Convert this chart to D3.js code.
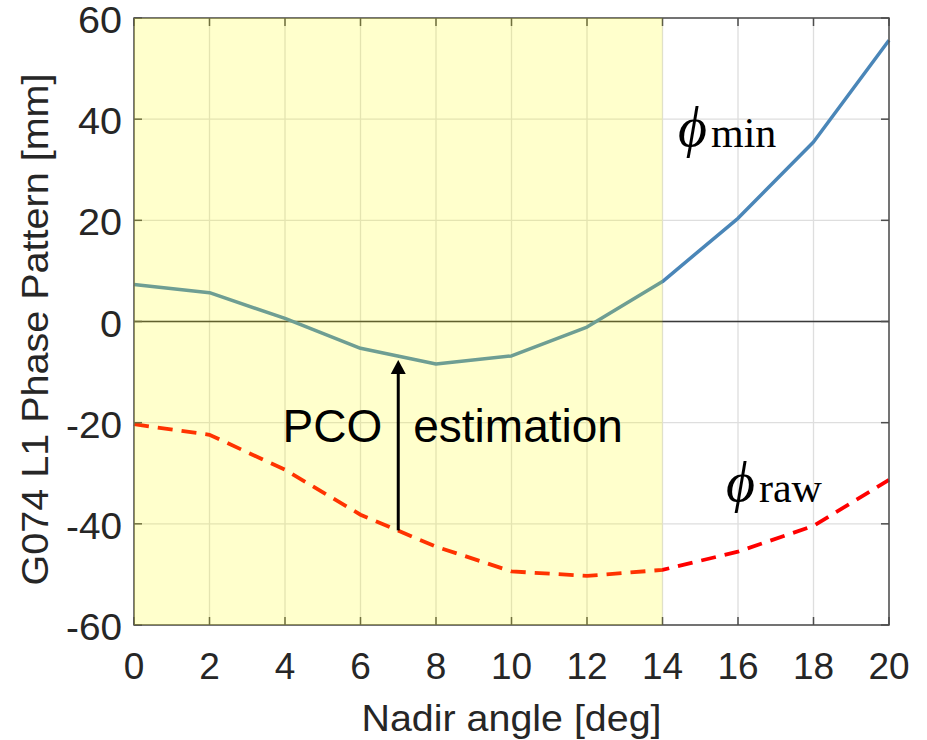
<!DOCTYPE html>
<html><head><meta charset="utf-8">
<script src="https://cdn.jsdelivr.net/npm/d3@7"></script>
<style>
html,body{margin:0;padding:0;background:#fff;}
svg{display:block;}
</style></head>
<body>
<svg id="chart" width="927" height="740"></svg>
<script>
const nadir = [0,2,4,6,8,10,12,14,16,18,20];
const phiMin = [7.3,5.7,0.6,-5.3,-8.4,-6.8,-1.1,7.9,20.4,35.5,55.6];
const phiRaw = [-20.3,-22.4,-29.3,-38.2,-44.5,-49.4,-50.3,-49.1,-45.5,-40.4,-31.3];
const xTicks = [0,2,4,6,8,10,12,14,16,18,20];
const yTicks = [-60,-40,-20,0,20,40,60];
const shadeRange = [0,14];
const arrowX = 7, arrowFrom = -41.3, arrowTo = -7.6;

const svg = d3.select("#chart");
const m = {l:134, t:18, r:889, b:625};
const x = d3.scaleLinear().domain([0,20]).range([m.l,m.r]);
const y = d3.scaleLinear().domain([-60,60]).range([m.b,m.t]);
const axisCol = "#4d4d4d", txtCol = "#262626";
const sans = "'Liberation Sans', Arial, Helvetica, sans-serif";

// grid
const g = svg.append("g");
g.selectAll(".gx").data(xTicks).join("line")
  .attr("x1",d=>x(d)).attr("x2",d=>x(d)).attr("y1",m.t).attr("y2",m.b)
  .attr("stroke","#dedede").attr("stroke-width",1.3);
g.selectAll(".gy").data(yTicks).join("line")
  .attr("x1",m.l).attr("x2",m.r).attr("y1",d=>y(d)).attr("y2",d=>y(d))
  .attr("stroke","#dedede").attr("stroke-width",1.3);
// zero line
g.append("line").attr("x1",m.l).attr("x2",m.r).attr("y1",y(0)).attr("y2",y(0))
  .attr("stroke","#3a3a3a").attr("stroke-width",1.5);

// lines
const line = d3.line().x((d,i)=>x(nadir[i])).y(d=>y(d));
svg.append("path").datum(phiMin).attr("d",line).attr("fill","none")
  .attr("stroke","#4a86b8").attr("stroke-width",3.5).attr("stroke-linejoin","round");
svg.append("path").datum(phiRaw).attr("d",line).attr("fill","none")
  .attr("stroke","#ff0000").attr("stroke-width",3.8).attr("stroke-dasharray","15,9");

// axes box + ticks
const ax = svg.append("g");
ax.append("rect").attr("x",m.l).attr("y",m.t).attr("width",m.r-m.l).attr("height",m.b-m.t)
  .attr("fill","none").attr("stroke",axisCol).attr("stroke-width",1.5);
const tl = 8;
ax.selectAll(".tb").data(xTicks).join("line").attr("x1",d=>x(d)).attr("x2",d=>x(d))
  .attr("y1",m.b).attr("y2",m.b-tl).attr("stroke",axisCol).attr("stroke-width",1.5);
ax.selectAll(".tt").data(xTicks).join("line").attr("x1",d=>x(d)).attr("x2",d=>x(d))
  .attr("y1",m.t).attr("y2",m.t+tl).attr("stroke",axisCol).attr("stroke-width",1.5);
ax.selectAll(".tl").data(yTicks).join("line").attr("y1",d=>y(d)).attr("y2",d=>y(d))
  .attr("x1",m.l).attr("x2",m.l+tl).attr("stroke",axisCol).attr("stroke-width",1.5);
ax.selectAll(".tr").data(yTicks).join("line").attr("y1",d=>y(d)).attr("y2",d=>y(d))
  .attr("x1",m.r).attr("x2",m.r-tl).attr("stroke",axisCol).attr("stroke-width",1.5);

// shaded patch (on top, translucent)
svg.append("rect").attr("x",x(shadeRange[0])).attr("y",m.t)
  .attr("width",x(shadeRange[1])-x(shadeRange[0])).attr("height",m.b-m.t)
  .attr("fill","#ffff00").attr("fill-opacity",0.2);

// tick labels
svg.selectAll(".xl").data(xTicks).join("text")
  .attr("x",d=>x(d)).attr("y",679).attr("text-anchor","middle")
  .attr("font-family",sans).attr("font-size",37).attr("fill",txtCol).text(d=>d);
const yLen = {1:22, 2:44, 3:56};
svg.selectAll(".yl").data(yTicks).join("text")
  .attr("x",122).attr("y",d=>y(d)+15).attr("text-anchor","end")
  .attr("font-family",sans).attr("font-size",36).attr("fill",txtCol)
  .attr("textLength",d=>yLen[String(d).length]).attr("lengthAdjust","spacingAndGlyphs")
  .text(d=>d);

// axis labels
svg.append("text").attr("x",(m.l+m.r)/2).attr("y",731).attr("text-anchor","middle")
  .attr("font-family",sans).attr("font-size",36).attr("fill",txtCol)
  .attr("textLength",300).attr("lengthAdjust","spacingAndGlyphs").text("Nadir angle [deg]");
svg.append("text").attr("transform",`translate(48,${(m.t+m.b)/2+8}) rotate(-90)`)
  .attr("text-anchor","middle")
  .attr("font-family",sans).attr("font-size",36).attr("fill",txtCol)
  .attr("textLength",512).attr("lengthAdjust","spacingAndGlyphs").text("G074 L1 Phase Pattern [mm]");

// arrow
const ax7 = x(arrowX);
svg.append("line").attr("x1",ax7).attr("x2",ax7).attr("y1",y(arrowFrom)).attr("y2",y(arrowTo)+12)
  .attr("stroke","#000").attr("stroke-width",3);
svg.append("path")
  .attr("d",`M${ax7},${y(arrowTo)} L${ax7-7.5},${y(arrowTo)+14} L${ax7+7.5},${y(arrowTo)+14} Z`)
  .attr("fill","#000");
svg.append("text").attr("x",ax7-16).attr("y",442).attr("text-anchor","end")
  .attr("font-family",sans).attr("font-size",46).attr("fill","#000").text("PCO");
svg.append("text").attr("x",ax7+15).attr("y",442).attr("text-anchor","start")
  .attr("font-family",sans).attr("font-size",46).attr("fill","#000").text("estimation");

// phi labels
const serif = "'Liberation Serif','DejaVu Serif',serif";
function phiLabel(px, py, sub){
  const t = svg.append("text").attr("x",px).attr("y",py)
    .attr("font-family",serif).attr("fill","#000");
  t.append("tspan").attr("font-size",56).attr("font-style","italic").text("ϕ");
  t.append("tspan").attr("font-size",42).attr("dy",1).attr("dx",4).text(sub);
}
phiLabel(678, 146, "min");
phiLabel(726, 501, "raw");
</script>
</body></html>
